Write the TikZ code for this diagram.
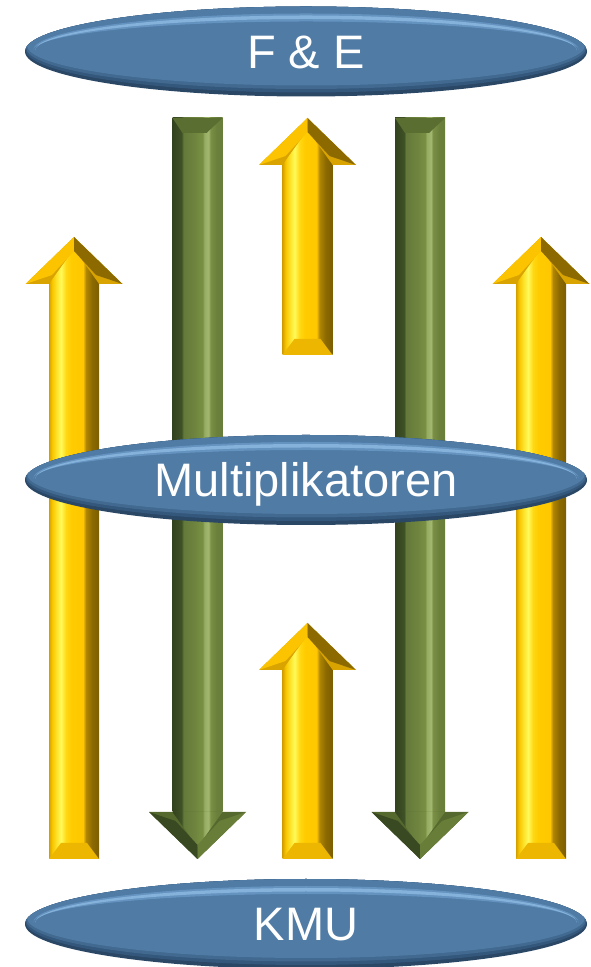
\documentclass[tikz,border=0pt]{standalone}
\usepackage{fontspec}
\setmainfont{Liberation Sans}
\usepackage{tikz}
\usetikzlibrary{shapes.geometric}

\definecolor{discrim}{HTML}{2A4765}
\definecolor{discmid}{HTML}{34577C}
\definecolor{discsoft}{HTML}{42698F}
\definecolor{discbody}{HTML}{4F7BA5}
\definecolor{discband}{HTML}{6593C0}
\definecolor{discglow}{HTML}{85B2DA}

\definecolor{gA}{HTML}{D4A000}
\definecolor{gB}{HTML}{F7C500}
\definecolor{gC}{HTML}{FFE52E}
\definecolor{gD}{HTML}{FFFA5A}
\definecolor{gE}{HTML}{FFD814}
\definecolor{gF}{HTML}{FFCC00}
\definecolor{gG}{HTML}{FFC700}
\definecolor{gH}{HTML}{B08600}
\definecolor{gI}{HTML}{8C6A00}
\definecolor{gJ}{HTML}{7D5E00}
\definecolor{goldbase}{HTML}{D9A300}
\definecolor{goldlight}{HTML}{FCC300}
\definecolor{golddark}{HTML}{8C6A00}
\definecolor{goldend}{HTML}{EDB600}

\definecolor{oA}{HTML}{33421E}
\definecolor{oB}{HTML}{3F5126}
\definecolor{oC}{HTML}{64793A}
\definecolor{oD}{HTML}{6E843E}
\definecolor{oE}{HTML}{789043}
\definecolor{oF}{HTML}{97AD63}
\definecolor{oG}{HTML}{A2B670}
\definecolor{oH}{HTML}{7A9044}
\definecolor{oI}{HTML}{6B803B}
\definecolor{oJ}{HTML}{687D39}
\definecolor{olivebase}{HTML}{55692E}
\definecolor{olivedark}{HTML}{394922}
\definecolor{olivelight}{HTML}{677D38}
\definecolor{olivetop}{HTML}{5A6E31}

\pgfdeclarehorizontalshading{goldbar}{100bp}{color(0bp)=(gA); color(25bp)=(gA); color(28bp)=(gB); color(33bp)=(gC); color(37bp)=(gD); color(42bp)=(gE); color(47bp)=(gF); color(59bp)=(gG); color(62bp)=(gH); color(68bp)=(gI); color(75bp)=(gJ); color(100bp)=(gJ)}
\pgfdeclarehorizontalshading{olivebar}{100bp}{color(0bp)=(oA); color(25bp)=(oA); color(34bp)=(oB); color(36bp)=(oC); color(47bp)=(oD); color(55bp)=(oE); color(57bp)=(oF); color(61bp)=(oG); color(63bp)=(oH); color(69bp)=(oI); color(75bp)=(oJ); color(100bp)=(oJ)}

\begin{document}
\begin{tikzpicture}[x=1pt, y=1pt,
    disc/.style={ellipse, minimum width=562pt, minimum height=90pt, inner sep=0pt, outer sep=0pt,
        fill=discrim, text=white, font=\fontsize{47}{56}\selectfont, text height=34pt, text depth=0pt,
        path picture={
            \fill[discmid] ([yshift=2pt]path picture bounding box.center) ellipse [x radius=280.5pt, y radius=43pt];
            \fill[discsoft] ([yshift=4pt]path picture bounding box.center) ellipse [x radius=280pt, y radius=41.5pt];
            \fill[discbody] ([yshift=6pt]path picture bounding box.center) ellipse [x radius=279pt, y radius=40pt];
            \fill[discband] ([xshift=-273pt,yshift=1pt]path picture bounding box.center)
                arc [start angle=180, end angle=0, x radius=273pt, y radius=37pt]
                arc [start angle=0, end angle=180, x radius=273pt, y radius=29pt] -- cycle;
            \fill[discglow] ([xshift=-271pt,yshift=1pt]path picture bounding box.center)
                arc [start angle=180, end angle=0, x radius=271pt, y radius=35pt]
                arc [start angle=0, end angle=180, x radius=271pt, y radius=31.5pt] -- cycle;
        }},
    goldshaft/.style={shading=goldbar},
    goldtip/.style={fill=goldbase},
    goldleft/.style={fill=goldlight},
    goldright/.style={fill=golddark},
    goldfoot/.style={fill=goldend},
    oliveshaft/.style={shading=olivebar},
    olivetip/.style={fill=olivebase},
    oliveleft/.style={fill=olivedark},
    oliveright/.style={fill=olivelight},
    olivehead/.style={fill=olivetop}]
        \useasboundingbox (0,0) rectangle (591,967);

        \coordinate (lgb) at (74,108);
        \coordinate (lgt) at (74,730);
        \coordinate (rgb) at (541,108);
        \coordinate (rgt) at (541,730);
        \coordinate (ugb) at (307.5,612);
        \coordinate (ugt) at (307.5,849);
        \coordinate (dgb) at (307.5,108);
        \coordinate (dgt) at (307.5,344);
        \coordinate (lot) at (197.5,849);
        \coordinate (lob) at (197.5,108);
        \coordinate (rot) at (420,849);
        \coordinate (rob) at (420,108);

        \shade[goldshaft] (lgb) ++(-25,0) rectangle ++(50,575);
        \fill[goldfoot] (lgb) ++(-25,0) -- ++(50,0) -- ++(-12,16) -- ++(-26,0) -- cycle;
        \fill[goldtip] (lgt) -- ++(-48.5,-47) -- ++(97,0) -- cycle;
        \shade[goldshaft] (lgt) ++(-25,-47) -- ++(25,35) -- ++(25,-35) -- cycle;
        \fill[goldleft] (lgt) -- ++(-48.5,-47) -- ++(26.5,9) -- ++(22,24) -- cycle;
        \fill[goldright] (lgt) -- ++(48.5,-47) -- ++(-26.5,9) -- ++(-22,24) -- cycle;

        \shade[goldshaft] (rgb) ++(-25,0) rectangle ++(50,575);
        \fill[goldfoot] (rgb) ++(-25,0) -- ++(50,0) -- ++(-12,16) -- ++(-26,0) -- cycle;
        \fill[goldtip] (rgt) -- ++(-48.5,-47) -- ++(97,0) -- cycle;
        \shade[goldshaft] (rgt) ++(-25,-47) -- ++(25,35) -- ++(25,-35) -- cycle;
        \fill[goldleft] (rgt) -- ++(-48.5,-47) -- ++(26.5,9) -- ++(22,24) -- cycle;
        \fill[goldright] (rgt) -- ++(48.5,-47) -- ++(-26.5,9) -- ++(-22,24) -- cycle;

        \shade[goldshaft] (ugb) ++(-25,0) rectangle ++(50,190);
        \fill[goldfoot] (ugb) ++(-25,0) -- ++(50,0) -- ++(-12,16) -- ++(-26,0) -- cycle;
        \fill[goldtip] (ugt) -- ++(-48.5,-47) -- ++(97,0) -- cycle;
        \shade[goldshaft] (ugt) ++(-25,-47) -- ++(25,35) -- ++(25,-35) -- cycle;
        \fill[goldleft] (ugt) -- ++(-48.5,-47) -- ++(26.5,9) -- ++(22,24) -- cycle;
        \fill[goldright] (ugt) -- ++(48.5,-47) -- ++(-26.5,9) -- ++(-22,24) -- cycle;

        \shade[goldshaft] (dgb) ++(-25,0) rectangle ++(50,189);
        \fill[goldfoot] (dgb) ++(-25,0) -- ++(50,0) -- ++(-12,16) -- ++(-26,0) -- cycle;
        \fill[goldtip] (dgt) -- ++(-48.5,-47) -- ++(97,0) -- cycle;
        \shade[goldshaft] (dgt) ++(-25,-47) -- ++(25,35) -- ++(25,-35) -- cycle;
        \fill[goldleft] (dgt) -- ++(-48.5,-47) -- ++(26.5,9) -- ++(22,24) -- cycle;
        \fill[goldright] (dgt) -- ++(48.5,-47) -- ++(-26.5,9) -- ++(-22,24) -- cycle;

        \shade[oliveshaft] (lot) ++(-25,0) rectangle ++(50,-694);
        \fill[olivehead] (lot) ++(-25,0) -- ++(50,0) -- ++(-16,-15) -- ++(-24,0) -- cycle;
        \fill[olivetip] (lob) -- ++(-48.5,47) -- ++(97,0) -- cycle;
        \shade[oliveshaft] (lob) ++(-25,47) -- ++(25,-35) -- ++(25,35) -- cycle;
        \fill[oliveleft] (lob) -- ++(-48.5,47) -- ++(26.5,-9) -- ++(22,-24) -- cycle;
        \fill[oliveright] (lob) -- ++(48.5,47) -- ++(-26.5,-9) -- ++(-22,-24) -- cycle;

        \shade[oliveshaft] (rot) ++(-25,0) rectangle ++(50,-694);
        \fill[olivehead] (rot) ++(-25,0) -- ++(50,0) -- ++(-16,-15) -- ++(-24,0) -- cycle;
        \fill[olivetip] (rob) -- ++(-48.5,47) -- ++(97,0) -- cycle;
        \shade[oliveshaft] (rob) ++(-25,47) -- ++(25,-35) -- ++(25,35) -- cycle;
        \fill[oliveleft] (rob) -- ++(-48.5,47) -- ++(26.5,-9) -- ++(22,-24) -- cycle;
        \fill[oliveright] (rob) -- ++(48.5,47) -- ++(-26.5,-9) -- ++(-22,-24) -- cycle;

        \node[disc] (fe) at (306,915.5) {F \& E};
        \node[disc] (multi) at (306,487) {Multiplikatoren};
        \node[disc] (kmu) at (306,43) {KMU};
\end{tikzpicture}
\end{document}
